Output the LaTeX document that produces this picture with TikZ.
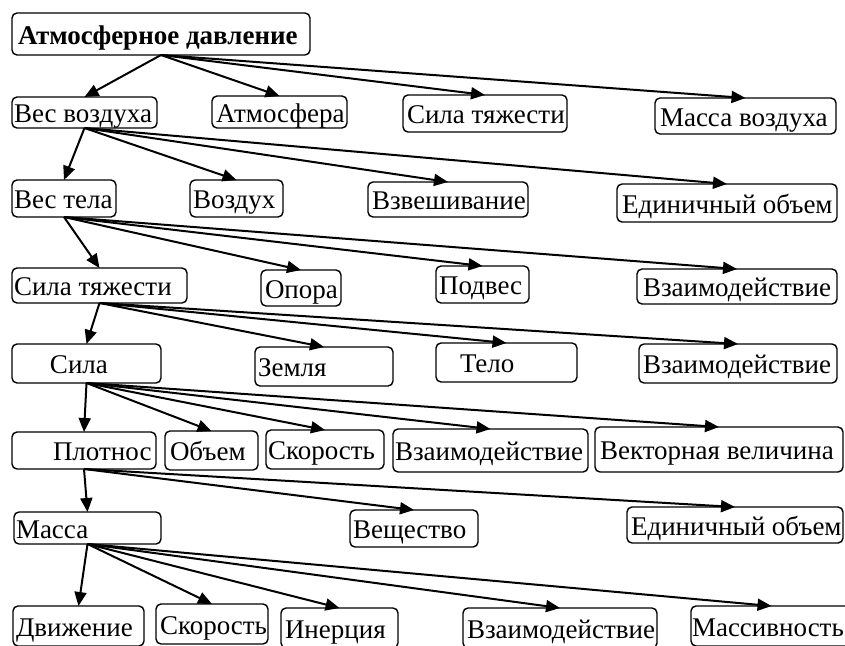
\documentclass[tikz,border=0pt]{standalone}
\usepackage{fontspec}
\setmainfont{Liberation Serif}
\usetikzlibrary{arrows.meta}
\tikzset{
  box/.style={draw, line width=1.4pt, rounded corners=5pt, inner sep=0pt, outer sep=0pt, font=\fontsize{27}{31}\selectfont},
  arr/.style={line width=2pt, -{Triangle[length=14pt,width=12pt]}}
}
\newcommand{\mybox}[7]{%
  \node[box, minimum width={(#4-#2)*1pt}, minimum height={(#5-#3)*1pt}] (#1) at ({(#2+#4)/2},{(#3+#5)/2})
  {\makebox[\dimexpr#4pt-#2pt\relax][l]{\hspace*{\dimexpr#6pt-#2pt\relax}\smash{#7}}\rule{0pt}{20pt}};}
\begin{document}
\begin{tikzpicture}[x=1pt,y=-1pt]
\useasboundingbox (0,0) rectangle (845,645);
\clip (0,0) rectangle (845,645);
% row 1
\mybox{ad}{12}{13}{310}{55}{18}{\textbf{Атмосферное давление}}
% row 2
\mybox{vv}{12}{97}{157}{128}{14}{Вес воздуха}
\mybox{atm}{212}{96}{347}{128}{216}{Атмосфера}
\mybox{stA}{403}{95}{567}{132}{407}{Сила тяжести}
\mybox{mv}{655}{98}{836}{134}{660}{Масса воздуха}
% row 3
\mybox{vt}{12}{180}{116}{217}{14}{Вес тела}
\mybox{vozd}{190}{180}{283}{217}{193}{Воздух}
\mybox{vzv}{368}{182}{528}{217}{372}{Взвешивание}
\mybox{eoA}{617}{184}{837}{222}{622}{Единичный объем}
% row 4
\mybox{stB}{12}{268}{187}{303}{14}{Сила тяжести}
\mybox{opora}{261}{270}{341}{306}{265}{Опора}
\mybox{podv}{436}{266}{529}{303}{439}{Подвес}
\mybox{vzA}{637}{269}{837}{304}{643}{Взаимодействие}
% row 5
\mybox{sila}{12}{344}{161}{383}{50}{Сила}
\mybox{zem}{255}{347}{393}{386}{258}{Земля}
\mybox{telo}{436}{343}{577}{382}{460}{Тело}
\mybox{vzB}{639}{344}{837}{383}{643}{Взаимодействие}
% row 6
\mybox{plot}{12}{432}{156}{469}{53}{Плотнос}
\mybox{obj}{165}{431}{258}{470}{170}{Объем}
\mybox{skorA}{266}{430}{384}{469}{268}{Скорость}
\mybox{vzC}{393}{429}{588}{472}{395}{Взаимодействие}
\mybox{vek}{595}{427}{843}{472}{600}{Векторная величина}
% row 7
\mybox{massa}{14}{512}{161}{544}{16}{Масса}
\mybox{vesh}{350}{510}{478}{547}{353}{Вещество}
\mybox{eoB}{627}{507}{843}{543}{631}{Единичный объем}
% row 8
\mybox{dv}{13}{606}{144}{646}{16}{Движение}
\mybox{skorB}{156}{604}{268}{644}{160}{Скорость}
\mybox{iner}{281}{608}{398}{648}{285}{Инерция}
\mybox{vzD}{463}{608}{657}{648}{467}{Взаимодействие}
\mybox{mas}{691}{606}{852}{646}{692}{Массивность}
% arrows
\foreach \t in {vv,atm,stA,mv} \draw[arr] (ad.south) -- (\t.north);
\foreach \t in {vt,vozd,vzv,eoA} \draw[arr] (vv.south) -- (\t.north);
\foreach \t in {stB,opora,podv,vzA} \draw[arr] (vt.south) -- (\t.north);
\foreach \t in {sila,zem,telo,vzB} \draw[arr] (stB.south) -- (\t.north);
\foreach \t in {plot,obj,skorA,vzC,vek} \draw[arr] (sila.south) -- (\t.north);
\foreach \t in {massa,vesh,eoB} \draw[arr] (plot.south) -- (\t.north);
\foreach \t in {dv,skorB,iner,vzD,mas} \draw[arr] (massa.south) -- (\t.north);
\end{tikzpicture}
\end{document}
